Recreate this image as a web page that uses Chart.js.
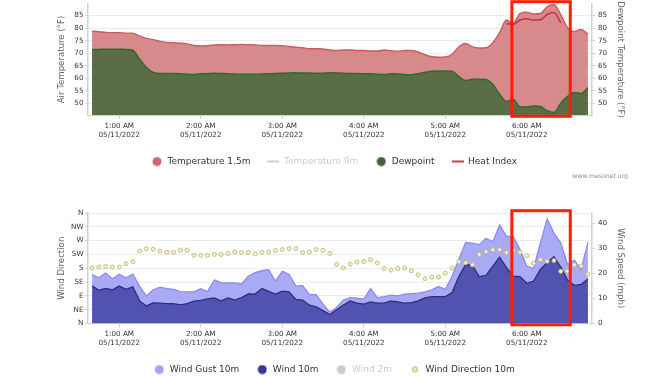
<!DOCTYPE html>
<html>
<head>
<meta charset="utf-8">
<title>Mesonet meteogram 05/11/2022</title>
<script src="https://cdn.jsdelivr.net/npm/chart.js@4.4.1/dist/chart.umd.min.js"></script>
<style>
  html, body { margin: 0; padding: 0; background: #fff; overflow: hidden; }
  #tempChart { position: absolute; left: 0; top: 0; }
  #windChart { position: absolute; left: 0; top: 190px; }
</style>
</head>
<body>
<canvas id="tempChart" width="668" height="190"></canvas>
<canvas id="windChart" width="668" height="194"></canvas>
<script>
// 5-minute observations, 05/11/2022
const times = [
    '00:40', '00:45', '00:50', '00:55',
    '01:00', '01:05', '01:10', '01:15', '01:20', '01:25', '01:30', '01:35', '01:40', '01:45', '01:50', '01:55',
    '02:00', '02:05', '02:10', '02:15', '02:20', '02:25', '02:30', '02:35', '02:40', '02:45', '02:50', '02:55',
    '03:00', '03:05', '03:10', '03:15', '03:20', '03:25', '03:30', '03:35', '03:40', '03:45', '03:50', '03:55',
    '04:00', '04:05', '04:10', '04:15', '04:20', '04:25', '04:30', '04:35', '04:40', '04:45', '04:50', '04:55',
    '05:00', '05:05', '05:10', '05:15', '05:20', '05:25', '05:30', '05:35', '05:40', '05:45', '05:50', '05:55',
    '06:00', '06:05', '06:10', '06:15', '06:20', '06:25', '06:30', '06:35', '06:40', '06:45'
];

const temp15 = [
    78.8, 78.6, 78.3, 78.2, 78.2, 78.0, 78.0, 76.8, 75.9, 75.4,
    74.7, 74.3, 74.2, 74.0, 73.7, 73.1, 72.9, 73.0, 73.3, 73.4,
    73.3, 73.4, 73.5, 73.4, 73.3, 73.1, 73.1, 73.1, 73.0, 72.7,
    72.4, 72.2, 71.8, 71.8, 71.7, 71.3, 71.1, 71.3, 71.3, 71.1,
    71.1, 70.9, 70.9, 71.3, 71.0, 70.8, 71.1, 71.1, 70.5, 69.4,
    68.6, 68.4, 68.5, 69.6, 72.6, 73.9, 72.5, 72.1, 72.2, 74.2,
    78.2, 83.2, 81.9, 85.8, 86.3, 85.6, 85.8, 88.5, 89.4, 85.4,
    80.2, 78.7, 79.5, 77.5
];

const dewpoint = [
    71.5, 71.5, 71.6, 71.6, 71.6, 71.5, 71.2, 67.6, 64.3, 62.3,
    61.9, 61.9, 61.9, 61.8, 61.6, 61.5, 61.8, 61.9, 62.0, 61.9,
    61.8, 61.7, 61.6, 61.6, 61.6, 61.7, 61.8, 61.9, 62.0, 62.1,
    62.2, 62.1, 62.1, 62.0, 62.0, 62.2, 62.1, 62.0, 61.9, 61.9,
    61.8, 61.8, 61.6, 61.5, 61.8, 61.7, 61.5, 61.4, 61.8, 62.4,
    62.8, 62.9, 62.9, 62.8, 60.7, 59.1, 59.6, 59.6, 59.5, 57.5,
    53.7, 50.8, 51.6, 48.7, 48.6, 49.0, 48.8, 47.1, 46.4, 50.1,
    52.8, 54.4, 54.0, 56.3
];

const heatIndex = [
    null, null, null, null, null, null, null, null, null, null,
    null, null, null, null, null, null, null, null, null, null,
    null, null, null, null, null, null, null, null, null, null,
    null, null, null, null, null, null, null, null, null, null,
    null, null, null, null, null, null, null, null, null, null,
    null, null, null, null, null, null, null, null, null, null,
    null, 81.8, 81.5, 83.2, 83.7, 83.2, 83.3, 85.4, 86.2, 82.1,
    null, null, null, null
];

const gust10 = [
    19.5, 18.2, 20.1, 17.8, 19.6, 18.2, 19.7, 14.8, 11.0, 13.4,
    14.5, 13.9, 13.6, 12.7, 12.6, 12.6, 13.9, 12.7, 17.3, 16.3,
    16.2, 16.2, 15.8, 18.8, 20.3, 21.0, 21.4, 16.9, 20.8, 19.6,
    14.9, 15.1, 11.5, 11.5, 7.7, 4.5, 6.4, 9.3, 10.3, 10.1,
    9.7, 13.9, 10.3, 10.7, 11.3, 11.0, 11.7, 11.9, 12.1, 12.6,
    13.4, 14.7, 13.6, 18.8, 25.5, 32.3, 32.0, 31.4, 33.9, 32.5,
    39.2, 34.7, 34.7, 29.5, 22.8, 22.0, 32.1, 41.6, 36.0, 32.1,
    23.5, 25.2, 21.5, 32.3
];

const wind10 = [
    15.0, 13.2, 14.0, 13.4, 14.9, 13.6, 14.6, 9.0, 7.0, 8.2,
    8.1, 7.9, 7.9, 7.4, 7.9, 8.9, 9.2, 9.8, 10.2, 9.0,
    10.2, 9.3, 10.3, 11.8, 11.7, 13.9, 12.8, 11.7, 12.9, 12.6,
    9.6, 9.3, 7.3, 6.6, 5.1, 3.6, 5.5, 7.3, 9.0, 8.1,
    7.7, 8.6, 8.1, 8.1, 9.0, 8.6, 8.1, 8.3, 9.0, 10.2,
    10.7, 10.7, 10.7, 12.3, 18.7, 23.5, 23.1, 18.7, 19.2, 22.8,
    26.4, 22.3, 18.9, 18.7, 16.0, 16.9, 21.5, 24.2, 26.6, 22.5,
    17.3, 15.2, 15.6, 17.7
];

const dir10 = [
    181, 184, 186, 184, 184, 195, 202, 236, 244, 242,
    236, 232, 232, 239, 239, 222, 222, 222, 225, 225,
    228, 233, 231, 231, 227, 232, 233, 238, 241, 244,
    244, 231, 233, 241, 238, 228, 192, 181, 193, 200,
    202, 208, 197, 179, 174, 179, 181, 172, 159, 146,
    151, 151, 164, 180, 201, 198, 191, 225, 234, 240,
    241, 231, 238, 232, 221, 196, 208, 203, 205, 170,
    170, 191, 187, 161
];

// axis ranges and tick labels
const xRange = ['00:37', '06:48'];
const hourTicks = ['01:00', '02:00', '03:00', '04:00', '05:00', '06:00'];
const hourLabels = ['1:00 AM', '2:00 AM', '3:00 AM', '4:00 AM', '5:00 AM', '6:00 AM'];
const dateLabel = '05/11/2022';
const tempRange = [45.4, 89.6];
const tempTicks = [50, 55, 60, 65, 70, 75, 80, 85];
const dirTicks = [0, 45, 90, 135, 180, 225, 270, 315, 360];
const dirLabels = ['N', 'NE', 'E', 'SE', 'S', 'SW', 'W', 'NW', 'N'];
const speedRange = [0, 44];
const speedTicks = [0, 10, 20, 30, 40];

// window marked with the red box on both panels
const highlight = ['05:49', '06:32'];

const axisColor = '#c6d3e6';
const gridColor = '#ececec';

Chart.defaults.font.family = '"DejaVu Sans", sans-serif';
Chart.defaults.color = '#333';

function toMinutes(s) {
    const parts = s.split(':');
    return parseInt(parts[0]) * 60 + parseInt(parts[1]);
}

function points(values) {
    return values.map((v, i) => ({ x: toMinutes(times[i]), y: v }));
}

// little canvases used as legend symbols
function symbol(kind, color) {
    const c = document.createElement('canvas');
    const ctx = c.getContext('2d');
    if (kind === 'dot') {
        c.width = 10; c.height = 10;
        ctx.fillStyle = color;
        ctx.beginPath();
        ctx.arc(5, 5, 4.5, 0, Math.PI * 2);
        ctx.fill();
    } else if (kind === 'line') {
        c.width = 12; c.height = 4;
        ctx.strokeStyle = color;
        ctx.lineWidth = 2;
        ctx.beginPath();
        ctx.moveTo(0, 2);
        ctx.lineTo(12, 2);
        ctx.stroke();
    } else {
        c.width = 8; c.height = 8;
        ctx.fillStyle = '#f3f1d6';
        ctx.strokeStyle = color;
        ctx.lineWidth = 1.2;
        ctx.beginPath();
        ctx.arc(4, 4, 2.4, 0, Math.PI * 2);
        ctx.fill();
        ctx.stroke();
    }
    return c;
}

function legendOptions() {
    return {
        position: 'bottom',
        labels: {
            usePointStyle: true,
            pointStyleWidth: 12,
            boxHeight: 9,
            padding: 17,
            font: { size: 9 },
            generateLabels: chart => chart.data.datasets.map((ds, i) => ({
                text: ds.label,
                datasetIndex: i,
                pointStyle: ds.legendSymbol,
                fontColor: ds.legendText,
                hidden: false,
                lineWidth: 0,
                fillStyle: 'transparent',
                strokeStyle: 'transparent'
            }))
        }
    };
}

function timeAxis(height) {
    return {
        type: 'linear',
        min: toMinutes(xRange[0]),
        max: toMinutes(xRange[1]),
        afterBuildTicks: s => { s.ticks = hourTicks.map(t => ({ value: toMinutes(t) })); },
        afterFit: s => { s.height = height; },
        grid: { drawOnChartArea: false, tickLength: 4, tickColor: axisColor },
        border: { color: axisColor, width: 1 },
        ticks: {
            padding: 2,
            maxRotation: 0,
            autoSkip: false,
            font: { size: 7.2, lineHeight: 1.3 },
            color: '#333',
            callback: (v, i) => [hourLabels[i], dateLabel]
        }
    };
}

function sideAxis(position, title, titleGap, drawGrid) {
    return {
        position: position,
        afterFit: s => {
            s.width = position === 'left' ? 88 : 76;
            s.paddingTop = 0;
            s.paddingBottom = 0;
        },
        grid: { drawOnChartArea: drawGrid, color: gridColor, tickLength: 3, tickColor: axisColor },
        border: { color: axisColor, width: 1.5 },
        ticks: { padding: position === 'left' ? 1.5 : 3, font: { size: 7.2 }, color: '#333' },
        title: {
            display: true,
            text: title,
            color: '#666',
            font: { size: 8.6 },
            padding: { top: titleGap, bottom: 0 }
        }
    };
}

const highlightPlugin = {
    id: 'highlightBox',
    afterDraw(chart) {
        const { ctx, chartArea, scales } = chart;
        const x1 = scales.x.getPixelForValue(toMinutes(highlight[0]));
        const x2 = scales.x.getPixelForValue(toMinutes(highlight[1]));
        const top = chartArea.top - 2.3;
        const bottom = chartArea.bottom + 1.3;
        ctx.save();
        ctx.strokeStyle = '#ff1e00';
        ctx.lineWidth = 3;
        ctx.strokeRect(x1, top, x2 - x1, bottom - top);
        ctx.restore();
    }
};

const creditPlugin = {
    id: 'credit',
    afterDraw(chart) {
        const ctx = chart.ctx;
        ctx.save();
        ctx.font = '6.2px "DejaVu Sans", sans-serif';
        ctx.fillStyle = '#909090';
        ctx.textAlign = 'right';
        ctx.textBaseline = 'middle';
        ctx.fillText('www.mesonet.org', 628, 176);
        ctx.restore();
    }
};

const tempY = sideAxis('left', 'Air Temperature (°F)', 56.5, true);
tempY.min = tempRange[0];
tempY.max = tempRange[1];
tempY.afterBuildTicks = s => { s.ticks = tempTicks.map(v => ({ value: v })); };

const dewY = sideAxis('right', 'Dewpoint Temperature (°F)', 42.8, false);
dewY.min = tempRange[0];
dewY.max = tempRange[1];
dewY.afterBuildTicks = s => { s.ticks = tempTicks.map(v => ({ value: v })); };

new Chart(document.getElementById('tempChart'), {
    type: 'line',
    data: {
        datasets: [{
            label: 'Temperature 1.5m',
            data: points(temp15),
            order: 3,
            yAxisID: 'y',
            borderColor: '#c85c60',
            borderWidth: 1.4,
            backgroundColor: '#d68a8c',
            fill: 'start',
            cubicInterpolationMode: 'monotone',
            legendSymbol: symbol('dot', '#cf676b'),
            legendText: '#333'
        }, {
            label: 'Temperature 9m',
            data: [],
            order: 2,
            yAxisID: 'y',
            borderColor: '#cccccc',
            legendSymbol: symbol('line', '#cccccc'),
            legendText: '#cccccc'
        }, {
            label: 'Dewpoint',
            data: points(dewpoint),
            order: 1,
            yAxisID: 'y',
            borderColor: '#2f6a2e',
            borderWidth: 1.5,
            backgroundColor: '#5b6d46',
            fill: 'start',
            cubicInterpolationMode: 'monotone',
            legendSymbol: symbol('dot', '#35672f'),
            legendText: '#333'
        }, {
            label: 'Heat Index',
            data: points(heatIndex),
            order: 0,
            yAxisID: 'y',
            borderColor: '#cc3140',
            borderWidth: 1.6,
            fill: false,
            cubicInterpolationMode: 'monotone',
            legendSymbol: symbol('line', '#d33a44'),
            legendText: '#333'
        }]
    },
    options: {
        responsive: false,
        animation: false,
        devicePixelRatio: 1,
        layout: { padding: { top: 4, bottom: 14, left: 0, right: 0 } },
        elements: { point: { radius: 0 } },
        scales: { x: timeAxis(25), y: tempY, y2: dewY },
        plugins: { legend: legendOptions(), tooltip: { enabled: false } }
    },
    plugins: [highlightPlugin, creditPlugin]
});

const dirY = sideAxis('left', 'Wind Direction', 56.5, true);
dirY.min = 0;
dirY.max = 360;
dirY.afterBuildTicks = s => { s.ticks = dirTicks.map(v => ({ value: v })); };
dirY.ticks.callback = (v, i) => dirLabels[i];

const speedY = sideAxis('right', 'Wind Speed (mph)', 42.8, false);
speedY.min = speedRange[0];
speedY.max = speedRange[1];
speedY.afterBuildTicks = s => { s.ticks = speedTicks.map(v => ({ value: v })); };

new Chart(document.getElementById('windChart'), {
    type: 'line',
    data: {
        datasets: [{
            label: 'Wind Gust 10m',
            data: points(gust10),
            order: 3,
            yAxisID: 'ySpd',
            borderColor: '#8b8bf1',
            borderWidth: 1.3,
            backgroundColor: '#a9a9f6',
            fill: 'start',
            legendSymbol: symbol('dot', '#a3a3f7'),
            legendText: '#333'
        }, {
            label: 'Wind 10m',
            data: points(wind10),
            order: 1,
            yAxisID: 'ySpd',
            borderColor: '#2c2c86',
            borderWidth: 1.3,
            backgroundColor: '#5252b0',
            fill: 'start',
            legendSymbol: symbol('dot', '#36369a'),
            legendText: '#333'
        }, {
            label: 'Wind 2m',
            data: [],
            order: 2,
            yAxisID: 'ySpd',
            borderColor: '#cccccc',
            legendSymbol: symbol('dot', '#cccccc'),
            legendText: '#cccccc'
        }, {
            label: 'Wind Direction 10m',
            data: points(dir10),
            order: 0,
            yAxisID: 'yDir',
            showLine: false,
            pointRadius: 2.0,
            pointBorderWidth: 1,
            pointBackgroundColor: '#f3f1d6',
            pointBorderColor: '#c4be74',
            legendSymbol: symbol('ring', '#c4be74'),
            legendText: '#333'
        }]
    },
    options: {
        responsive: false,
        animation: false,
        devicePixelRatio: 1,
        layout: { padding: { top: 23, bottom: 0, left: 0, right: 0 } },
        elements: { point: { radius: 0 } },
        scales: { x: timeAxis(24.5), yDir: dirY, ySpd: speedY },
        plugins: { legend: legendOptions(), tooltip: { enabled: false } }
    },
    plugins: [highlightPlugin]
});
</script>
</body>
</html>
